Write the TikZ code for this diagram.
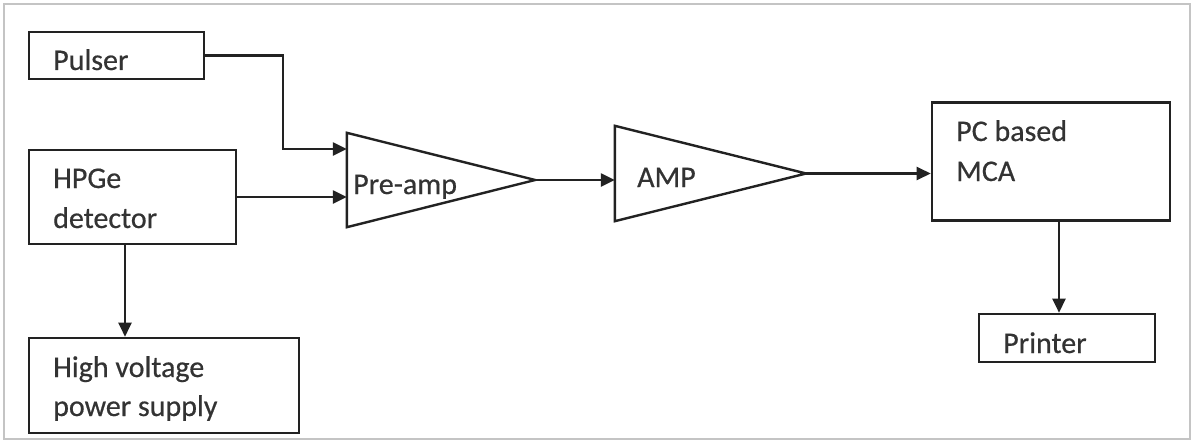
\documentclass[tikz,border=0pt]{standalone}
\usepackage{fontspec}
\setmainfont{Carlito}[FakeBold=0.5]
\usetikzlibrary{arrows.meta}
\definecolor{ink}{HTML}{222222}
\definecolor{txt}{HTML}{333333}
\definecolor{frame}{HTML}{C4C4C4}
\tikzset{
  blockbox/.style={draw=ink, line width=2.6pt, inner sep=0pt, rectangle},
  lbl/.style={anchor=base west, inner sep=0pt, text=txt, font=\fontsize{30}{36}\selectfont},
  tribox/.style={draw=none, inner sep=0pt, rectangle},
  tri/.style={draw=ink, line width=2.4pt, line join=miter},
  wire/.style={draw=ink, line width=2.4pt},
  arr/.style={wire, -{Triangle[length=14pt,width=13pt]}}
}
\begin{document}
\begin{tikzpicture}[x=1pt,y=-1pt]
\useasboundingbox (0,0) rectangle (1194,444);
\draw[frame, line width=2pt] (4,4) rectangle (1190,439);

% boxes
\node[blockbox, minimum width=175pt, minimum height=47pt] (pulser) at (116.5,55.5) {};
\node[blockbox, minimum width=207pt, minimum height=94pt] (hpge) at (132.5,197) {};
\node[blockbox, minimum width=270pt, minimum height=95pt] (hv) at (164,385.5) {};
\node[blockbox, minimum width=238pt, minimum height=118pt] (mca) at (1051,161.5) {};
\node[blockbox, minimum width=176pt, minimum height=48pt] (printer) at (1067,338) {};

% triangles (amplifiers)
\node[tribox, minimum width=188pt, minimum height=94pt] (pre) at (441,180) {};
\draw[tri] (pre.north west) -- (pre.east) -- (pre.south west) -- cycle;
\node[tribox, minimum width=191pt, minimum height=95pt] (amp) at (710.5,173.5) {};
\draw[tri] (amp.north west) -- (amp.east) -- (amp.south west) -- cycle;

% texts
\node[lbl] (tpulser) at (53,70) {Pulser};
\node[lbl] (thpge1) at (53,188) {HPGe};
\node[lbl] (thpge2) at (53,228) {detector};
\node[lbl] (thv1) at (53,377) {High voltage};
\node[lbl] (thv2) at (53,416) {power supply};
\node[lbl] (tpre) at (353,194) {Pre-amp};
\node[lbl] (tamp) at (637,187) {AMP};
\node[lbl] (tmca1) at (956,141) {PC based};
\node[lbl] (tmca2) at (956,181) {MCA};
\node[lbl] (tprinter) at (1003,353) {Printer};

% connectors
\coordinate (pbend) at (283,149);
\draw[arr] (pulser.east) -| (pbend) -- (pre.west |- pbend);
\draw[arr] (hpge.east) -- (pre.west |- hpge.east);
\draw[arr] ([xshift=-7.5pt]hpge.south) -- ([xshift=-7.5pt]hpge.south |- hv.north);
\draw[arr] (pre.east) -- (amp.west |- pre.east);
\draw[arr] (amp.east) -- (mca.west |- amp.east);
\draw[arr] ([xshift=8pt]mca.south) -- ([xshift=8pt]mca.south |- printer.north);
\end{tikzpicture}
\end{document}
